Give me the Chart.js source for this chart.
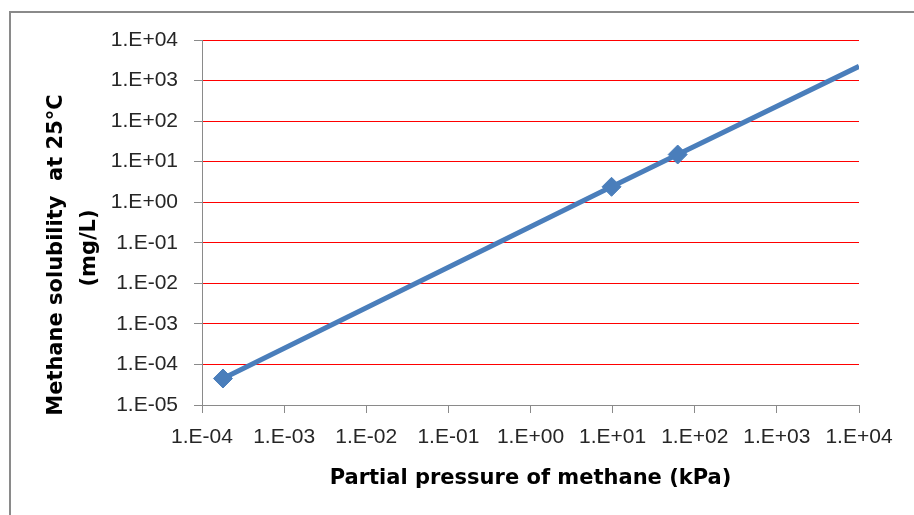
<!DOCTYPE html>
<html>
<head>
<meta charset="utf-8">
<script src="https://cdn.jsdelivr.net/npm/chart.js@4"></script>
<style>
  body { margin: 0; background: #fff; }
  #wrap { position: relative; width: 914px; height: 515px; overflow: hidden; }
  #frame { position: absolute; left: 9px; top: 11px; width: 1000px; height: 1000px; border: 2px solid #8a8a8a; }
  #myChart { position: absolute; left: 0; top: 0; }
</style>
</head>
<body>
<div id="wrap">
  <div id="frame"></div>
  <canvas id="myChart" width="914" height="515"></canvas>
</div>
<script>
// data
const pressure = [1.8e-4, 9.7, 62, 1e4];
const solubility = [4.5e-5, 2.4, 15, 2240];
const markerSize = [9.5, 9.5, 9.5, 0];

const xTicks = [1e-4, 1e-3, 1e-2, 1e-1, 1e0, 1e1, 1e2, 1e3, 1e4];
const xTickLabels = ['1.E-04', '1.E-03', '1.E-02', '1.E-01', '1.E+00', '1.E+01', '1.E+02', '1.E+03', '1.E+04'];
const yTicks = [1e-5, 1e-4, 1e-3, 1e-2, 1e-1, 1e0, 1e1, 1e2, 1e3, 1e4];
const yTickLabels = ['1.E-05', '1.E-04', '1.E-03', '1.E-02', '1.E-01', '1.E+00', '1.E+01', '1.E+02', '1.E+03', '1.E+04'];

const xTitle = 'Partial pressure of methane (kPa)';
const yTitle = ['Methane solubility  at 25°C', '(mg/L)'];

let points = pressure.map((p, i) => {
    return { x: p, y: solubility[i] }
})

// y title drawn by hand so it can sit a bit lower than the axis middle
const yTitlePlugin = {
    id: 'yTitle',
    afterDraw(chart) {
        const ctx = chart.ctx;
        ctx.save();
        ctx.font = 'bold 21px "DejaVu Sans"';
        ctx.fillStyle = '#000';
        ctx.textAlign = 'center';
        ctx.textBaseline = 'middle';
        const spots = [[57, 255], [90, 248]];
        for (let i = 0; i < yTitle.length; i++) {
            ctx.save();
            ctx.translate(spots[i][0], spots[i][1]);
            ctx.rotate(-Math.PI / 2);
            ctx.fillText(yTitle[i], 0, 0);
            ctx.restore();
        }
        ctx.restore();
    }
};

const myChart = document.getElementById('myChart');

let lineChart = new Chart(myChart, {
    type: 'scatter',
    data: {
        datasets: [{
            label: 'Methane solubility',
            data: points,
            showLine: true,
            borderColor: '#4a7ebb',
            backgroundColor: '#4a7ebb',
            borderWidth: 5,
            pointStyle: 'rectRot',
            pointRadius: markerSize,
            pointBorderWidth: 1,
            pointBackgroundColor: '#4a7ebb',
            pointBorderColor: '#4a7ebb'
        }]
    },
    options: {
        responsive: false,
        animation: false,
        devicePixelRatio: 1,
        layout: {
            padding: { left: 0, top: 40, right: 55, bottom: 0 }
        },
        plugins: {
            legend: { display: false },
            tooltip: { enabled: false }
        },
        scales: {
            x: {
                type: 'logarithmic',
                min: 1e-4,
                max: 1e4,
                afterBuildTicks: (scale) => { scale.ticks = xTicks.map(v => ({ value: v })); },
                afterFit: (scale) => { scale.height = 110; },
                grid: {
                    drawOnChartArea: false,
                    tickColor: '#8a8a8a',
                    tickLength: 8
                },
                border: { display: true, color: '#8a8a8a', width: 1 },
                ticks: {
                    autoSkip: false,
                    maxRotation: 0,
                    padding: 12,
                    color: '#262626',
                    font: { family: '"Liberation Sans"', size: 21 },
                    callback: (value, index) => xTickLabels[index]
                },
                title: {
                    display: true,
                    text: xTitle,
                    color: '#000',
                    font: { family: '"DejaVu Sans"', size: 21, weight: 'bold' },
                    padding: { top: 0, bottom: 24 }
                }
            },
            y: {
                type: 'logarithmic',
                min: 1e-5,
                max: 1e4,
                afterBuildTicks: (scale) => { scale.ticks = yTicks.map(v => ({ value: v })); },
                afterFit: (scale) => { scale.width = 202; },
                grid: {
                    color: '#ff0000',
                    lineWidth: 1,
                    tickColor: '#8a8a8a',
                    tickLength: 8
                },
                border: { display: true, color: '#8a8a8a', width: 1 },
                ticks: {
                    autoSkip: false,
                    padding: 16,
                    color: '#262626',
                    font: { family: '"Liberation Sans"', size: 21 },
                    callback: (value, index) => yTickLabels[index]
                }
            }
        }
    },
    plugins: [yTitlePlugin]
});
</script>
</body>
</html>
